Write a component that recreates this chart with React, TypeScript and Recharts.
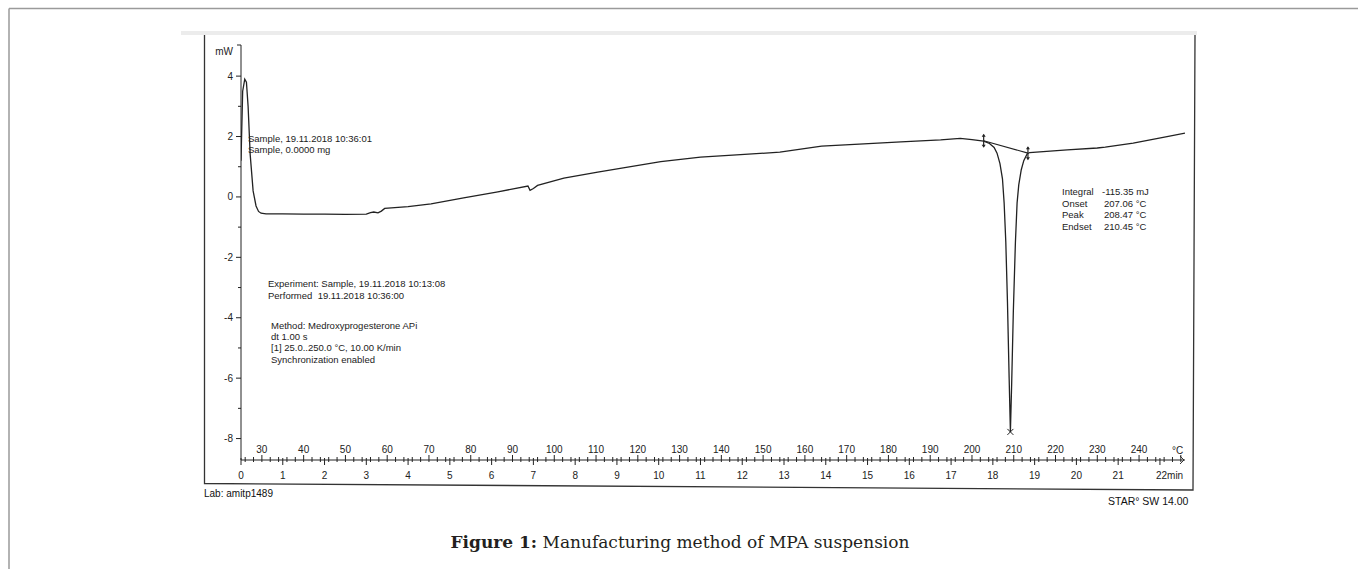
import React from "react";
import { ComposedChart, Line, Scatter, XAxis, YAxis } from "recharts";

// DSC trace: time (min) vs heat flow (mW)
const TIME_MIN = [
  0, 0.04, 0.09, 0.13, 0.17, 0.22, 0.29, 0.36, 0.42, 0.48, 0.6, 1.0, 1.5, 2.0, 2.5, 3.0,
  3.1, 3.18, 3.28, 3.36, 3.44, 3.6, 4.0, 4.55, 5.33, 6.15, 6.87, 6.92, 7.0, 7.1, 7.73,
  8.54, 9.33, 10.05, 11.0, 11.96, 12.9, 13.4, 13.9, 14.8, 15.8, 16.75, 17.22, 17.5,
  17.78, 17.92, 18.03, 18.1, 18.17, 18.23, 18.27, 18.31, 18.35, 18.39, 18.42, 18.45,
  18.49, 18.54, 18.58, 18.62, 18.68, 18.74, 18.82, 18.88, 19.78, 20.5, 20.69, 21.36,
  22.17, 22.6,
];
const HEAT_FLOW_MW = [
  1.2, 3.5, 3.9, 3.8, 3.0, 1.4, 0.2, -0.3, -0.48, -0.54, -0.56, -0.56, -0.57, -0.57,
  -0.58, -0.57, -0.52, -0.5, -0.53, -0.47, -0.38, -0.36, -0.32, -0.23, -0.03, 0.17, 0.36,
  0.22, 0.28, 0.38, 0.62, 0.82, 1.0, 1.17, 1.32, 1.4, 1.48, 1.58, 1.68, 1.75, 1.82, 1.89,
  1.94, 1.9, 1.85, 1.77, 1.64, 1.45, 1.1, 0.6, -0.2, -1.5, -3.5, -6.0, -7.78, -6.2, -3.8,
  -1.5, -0.2, 0.4, 0.9, 1.2, 1.42, 1.47, 1.56, 1.62, 1.65, 1.78, 2.0, 2.11,
];

// integration baseline and peak marker
const BASELINE_TIME = [17.78, 18.84];
const BASELINE_MW = [1.86, 1.45];
const PEAK_TIME = [18.42];
const PEAK_MW = [-7.78];

// axis labels
const MINUTE_LABELS = [0, 1, 2, 3, 4, 5, 6, 7, 8, 9, 10, 11, 12, 13, 14, 15, 16, 17, 18, 19, 20, 21, 22];
const TEMP_LABELS = [30, 40, 50, 60, 70, 80, 90, 100, 110, 120, 130, 140, 150, 160, 170, 180, 190, 200, 210, 220, 230, 240];
const MW_TICKS = [-8, -7, -6, -5, -4, -3, -2, -1, 0, 1, 2, 3, 4];

const curve = TIME_MIN.map((t, i) => ({ t, mW: HEAT_FLOW_MW[i] }));
const baseline = BASELINE_TIME.map((t, i) => ({ t, mW: BASELINE_MW[i] }));
const peak = PEAK_TIME.map((t, i) => ({ t, mW: PEAK_MW[i] }));

const X_MAX = 22.6;
const Y_DOMAIN: [number, number] = [-8.71, 5.03];

// ruler: 25 °C at 0 min, 10 K/min
const tempToMin = (c: number) => (c - 25) / 10;
const TEMP_GRAD: number[] = [];
for (let c = 26; c <= 250; c += 2) TEMP_GRAD.push(c);
const X_TICKS = [...MINUTE_LABELS, ...TEMP_GRAD.map(tempToMin)].sort((a, b) => a - b);

const FONT = "'Liberation Sans', Arial, sans-serif";
const INK = "#222";

function MwTick({ x, y, payload }: any) {
  const v = payload.value;
  if (v > 4.5) {
    return (
      <g>
        <line x1={x - 4} x2={x} y1={y} y2={y} stroke={INK} />
        <text x={x - 8} y={y + 9.5} textAnchor="end" fontSize={10} fontFamily={FONT} fill={INK}>mW</text>
      </g>
    );
  }
  const major = v % 2 === 0;
  return (
    <g>
      <line x1={x - (major ? 5 : 3)} x2={x} y1={y} y2={y} stroke={INK} />
      {major && (
        <text x={x - 8} y={y + 3.5} textAnchor="end" fontSize={10} fontFamily={FONT} fill={INK}>{v}</text>
      )}
    </g>
  );
}

function RulerTick({ x, y, payload }: any) {
  const t = payload.value;
  if (Math.abs(t - Math.round(t)) < 1e-6) {
    const last = t === MINUTE_LABELS[MINUTE_LABELS.length - 1];
    return (
      <g>
        <line x1={x} x2={x} y1={y - 2} y2={y + 5} stroke={INK} />
        <text x={last ? x - 4 : x} y={y + 18.5} textAnchor={last ? "start" : "middle"} fontSize={10} fontFamily={FONT} fill={INK}>
          {last ? `${t}min` : t}
        </text>
      </g>
    );
  }
  const c = Math.round(25 + t * 10);
  const ten = c % 10 === 0;
  return (
    <g>
      <line x1={x} x2={x} y1={y - (ten ? 5 : 3)} y2={y + 2} stroke={INK} />
      {TEMP_LABELS.includes(c) && (
        <text x={x} y={y - 7.5} textAnchor="middle" fontSize={10} fontFamily={FONT} fill={INK}>{c}</text>
      )}
    </g>
  );
}

function BaselineMark({ cx, cy }: any) {
  if (cx == null || cy == null) return null;
  return (
    <g>
      <line x1={cx} x2={cx} y1={cy - 6} y2={cy + 6} stroke={INK} strokeWidth={1.2} />
      <path d={`M${cx - 2},${cy - 4} L${cx},${cy - 7} L${cx + 2},${cy - 4} Z`} fill={INK} />
      <path d={`M${cx - 2},${cy + 4} L${cx},${cy + 7} L${cx + 2},${cy + 4} Z`} fill={INK} />
    </g>
  );
}

function PeakCross({ cx, cy }: any) {
  return (
    <g stroke={INK} strokeWidth={1}>
      <line x1={cx - 3} y1={cy - 3} x2={cx + 3} y2={cy + 3} />
      <line x1={cx - 3} y1={cy + 3} x2={cx + 3} y2={cy - 3} />
    </g>
  );
}

const txt = { fontFamily: FONT, fontSize: 9.5, fill: INK } as const;

export default function App() {
  return (
    <div style={{ position: "absolute", left: 0, top: 0, width: 1358, height: 569, background: "#fff" }}>
      <svg width={1358} height={569} style={{ position: "absolute", left: 0, top: 0 }}>
        {/* page frame */}
        <line x1={9} y1={8.5} x2={1358} y2={8.5} stroke="#9a9a9a" strokeWidth={1.5} />
        <line x1={9} y1={8.5} x2={9} y2={569} stroke="#9a9a9a" strokeWidth={1.5} />
        {/* scanned sheet border */}
        <rect x={181} y={31} width={1016} height={4} fill="#ececec" />
        <path d="M204.5,35 L204.5,483.5 L1193,490 L1195,35" fill="none" stroke="#333" strokeWidth={1.3} />
      </svg>

      <div style={{ position: "absolute", left: 0, top: 0 }}>
        <ComposedChart width={1358} height={569} margin={{ top: 45, right: 173, bottom: 79, left: 211 }}>
          <XAxis
            dataKey="t"
            type="number"
            domain={[0, X_MAX]}
            ticks={X_TICKS}
            interval={0}
            tick={<RulerTick />}
            tickLine={false}
            tickSize={0}
            tickMargin={0}
            height={30}
            axisLine={{ stroke: INK }}
            allowDataOverflow
          />
          <YAxis
            type="number"
            domain={Y_DOMAIN}
            ticks={[...MW_TICKS, Y_DOMAIN[1]]}
            interval={0}
            tick={<MwTick />}
            tickLine={false}
            tickSize={0}
            tickMargin={0}
            width={30}
            axisLine={{ stroke: INK }}
            allowDataOverflow
          />
          <Line data={curve} dataKey="mW" stroke={INK} strokeWidth={1.3} dot={false} type="linear" isAnimationActive={false} />
          <Line
            data={baseline}
            dataKey="mW"
            stroke={INK}
            strokeWidth={1.1}
            type="linear"
            dot={(p: any) => <BaselineMark key={p.index} {...p} />}
            isAnimationActive={false}
          />
          <Scatter data={peak} dataKey="mW" shape={(p: any) => <PeakCross {...p} />} isAnimationActive={false} />
        </ComposedChart>
      </div>

      <svg width={1358} height={569} style={{ position: "absolute", left: 0, top: 0, pointerEvents: "none" }}>
        <text {...txt} x={248} y={141.5}>Sample, 19.11.2018 10:36:01</text>
        <text {...txt} x={248} y={152.5}>Sample, 0.0000 mg</text>

        <text {...txt} x={268} y={286.5}>Experiment: Sample, 19.11.2018 10:13:08</text>
        <text {...txt} x={268} y={298.5} xmlSpace="preserve">Performed  19.11.2018 10:36:00</text>

        <text {...txt} x={271} y={328.5}>Method: Medroxyprogesterone APi</text>
        <text {...txt} x={271} y={339.5}>dt 1.00 s</text>
        <text {...txt} x={271} y={350.5}>[1] 25.0..250.0 °C, 10.00 K/min</text>
        <text {...txt} x={271} y={362.5}>Synchronization enabled</text>

        <text {...txt} x={1062} y={195}>Integral</text>
        <text {...txt} x={1102} y={195}>-115.35 mJ</text>
        <text {...txt} x={1062} y={206.5}>Onset</text>
        <text {...txt} x={1104} y={206.5}>207.06 °C</text>
        <text {...txt} x={1062} y={218}>Peak</text>
        <text {...txt} x={1104} y={218}>208.47 °C</text>
        <text {...txt} x={1062} y={229.5}>Endset</text>
        <text {...txt} x={1104} y={229.5}>210.45 °C</text>

        <text {...txt} fontSize={10} x={1172} y={453.5}>°C</text>
        <path d="M1180,456 L1184,460 L1180,464" fill="none" stroke={INK} strokeWidth={0.9} />

        <text fontFamily={FONT} fontSize={10} fill="#111" x={204} y={497}>Lab: amitp1489</text>
        <text fontFamily={FONT} fontSize={10.5} fill="#111" x={1108} y={505}>STAR° SW 14.00</text>

        <text x={680} y={548} textAnchor="middle" fontFamily="'DejaVu Serif', 'Liberation Serif', serif" fontSize={17} fill="#231f20">
          <tspan fontWeight="bold">Figure 1:</tspan> Manufacturing method of MPA suspension
        </text>
      </svg>
    </div>
  );
}
